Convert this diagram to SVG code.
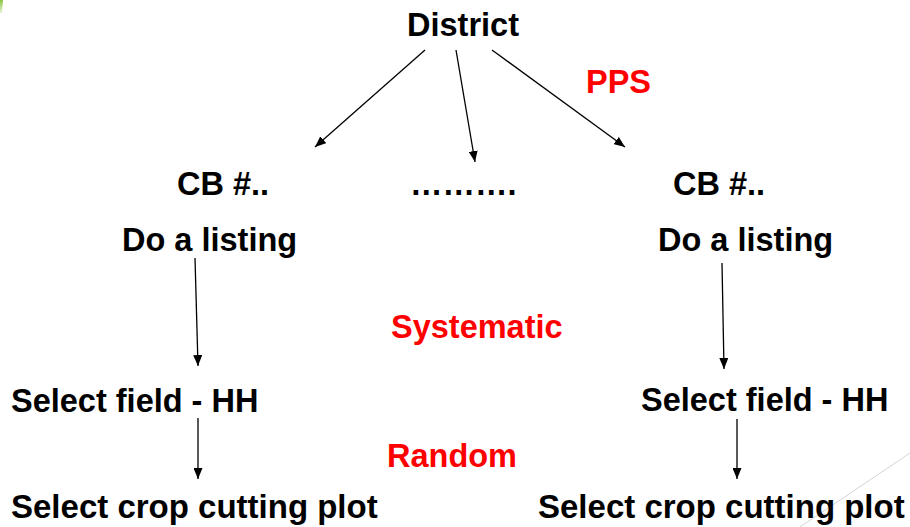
<svg xmlns="http://www.w3.org/2000/svg" width="910" height="527" viewBox="0 0 910 527">
<defs>
<marker id="ah" markerUnits="userSpaceOnUse" markerWidth="11" markerHeight="9" refX="11" refY="4.5" orient="auto">
<path d="M0,0 L11,4.5 L0,9 z" fill="#000"/>
</marker>
<linearGradient id="gg" x1="0" y1="0" x2="0" y2="1">
<stop offset="0" stop-color="#8cc63f"/>
<stop offset="1" stop-color="#8cc63f" stop-opacity="0.2"/>
</linearGradient>
<style>
.t{font-family:"Liberation Sans",Arial,sans-serif;font-weight:bold;font-size:32.5px;fill:#000}
.b{font-size:33px}
.r{fill:#ff0000}
.c{stroke:#000;stroke-width:1.3;fill:none;marker-end:url(#ah)}
</style>
</defs>
<rect width="910" height="527" fill="#fff"/>
<polygon points="0,0 3,0 2,13 0,13" fill="url(#gg)"/>
<line x1="800" y1="527" x2="910" y2="453" stroke="#d4d4d4" stroke-width="1"/>
<g id="connectors">
<line class="c" x1="425" y1="50" x2="315" y2="147"/>
<line class="c" x1="456" y1="50" x2="475" y2="162"/>
<line class="c" x1="492" y1="50" x2="625" y2="147"/>
<line class="c" x1="195" y1="258" x2="198" y2="366"/>
<line class="c" x1="722" y1="263" x2="724" y2="369"/>
<line class="c" x1="198" y1="418" x2="198" y2="479"/>
<line class="c" x1="737" y1="419" x2="737" y2="479"/>
</g>
<g id="district"><text class="t" x="407" y="36">District</text></g>
<g id="pps"><text class="t r" x="586" y="93">PPS</text></g>
<g id="cb-left"><text class="t" x="177" y="195">CB #..</text></g>
<g id="cb-middle"><text class="t" x="410" y="195">……….</text></g>
<g id="cb-right"><text class="t" x="673" y="195">CB #..</text></g>
<g id="listing-left"><text class="t" x="122" y="251">Do a listing</text></g>
<g id="listing-right"><text class="t" x="658" y="251">Do a listing</text></g>
<g id="systematic"><text class="t r" x="391" y="338">Systematic</text></g>
<g id="field-left"><text class="t" x="11" y="412">Select field - HH</text></g>
<g id="field-right"><text class="t" x="641" y="411">Select field - HH</text></g>
<g id="random"><text class="t r" x="387" y="467">Random</text></g>
<g id="plot-left"><text class="t b" x="11" y="518">Select crop cutting plot</text></g>
<g id="plot-right"><text class="t b" x="538" y="518">Select crop cutting plot</text></g>
</svg>
